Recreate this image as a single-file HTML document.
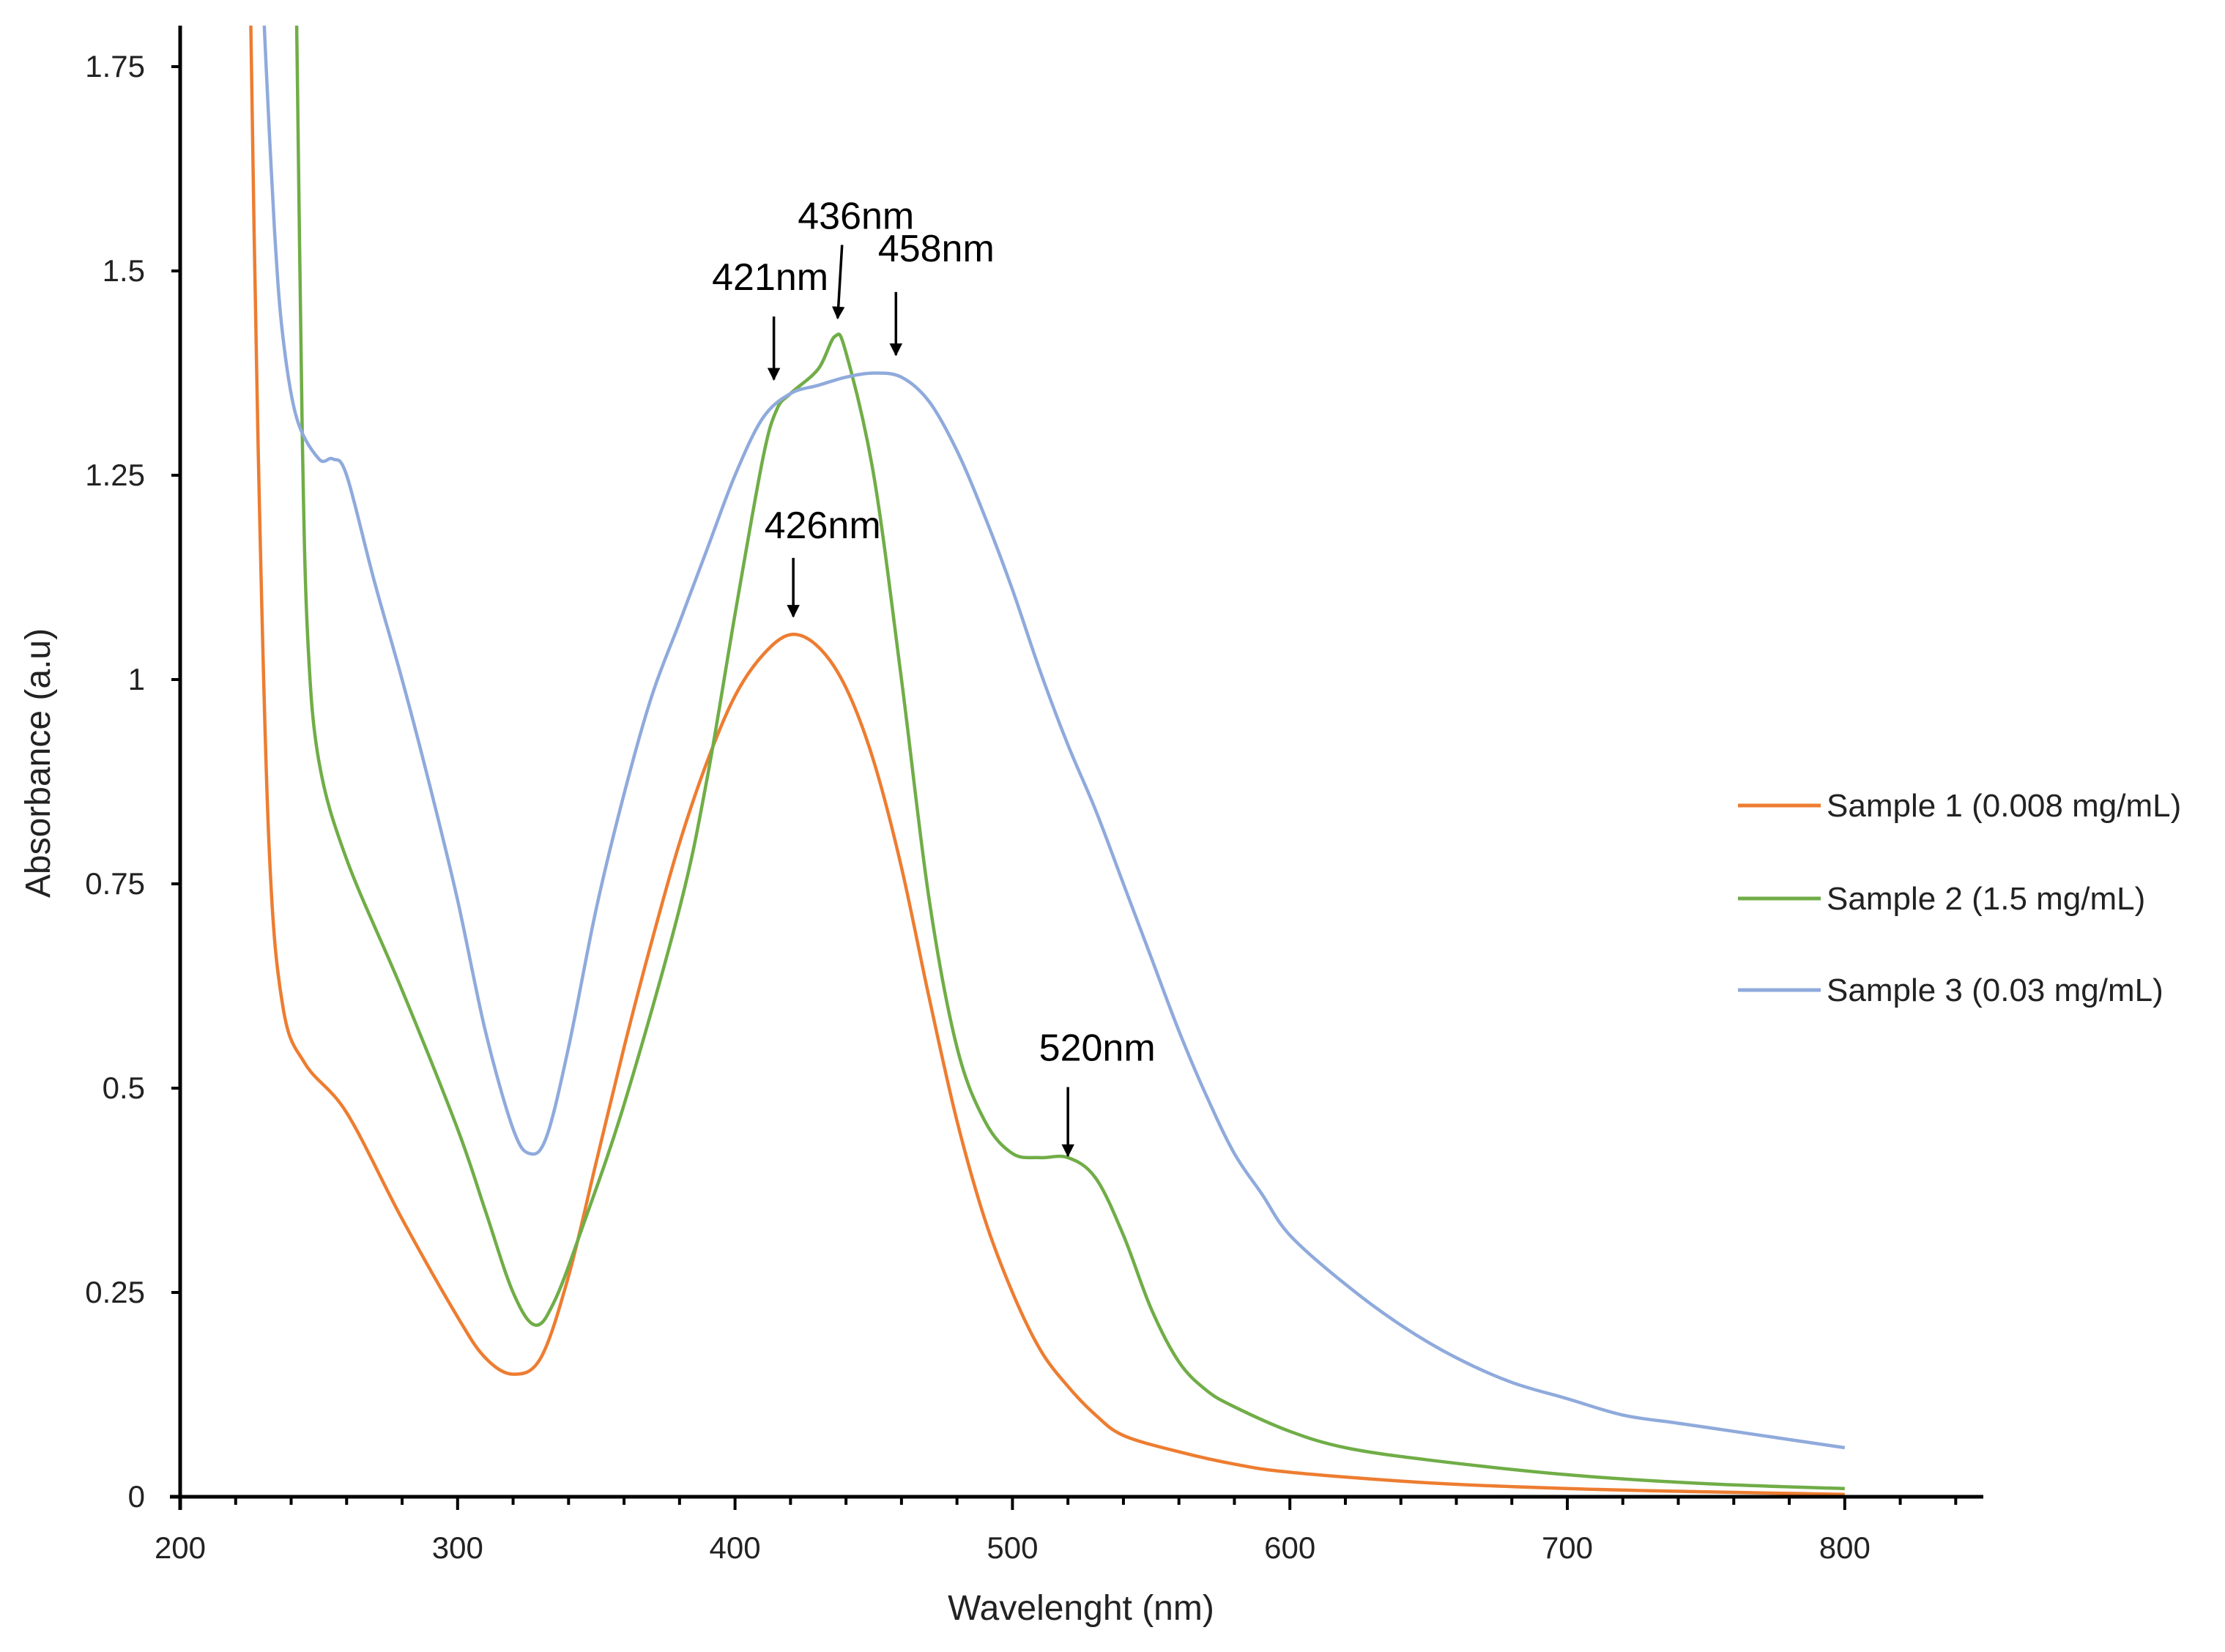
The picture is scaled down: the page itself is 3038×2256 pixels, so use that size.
<!DOCTYPE html>
<html><head><meta charset="utf-8"><style>
html,body{margin:0;padding:0;background:#fff;}
svg{display:block;font-family:"Liberation Sans",sans-serif;}
</style></head><body>
<svg id="chart" width="3038" height="2256" viewBox="0 0 3038 2256" xmlns="http://www.w3.org/2000/svg">
<defs><clipPath id="plotclip"><rect x="246" y="35" width="2470" height="2010"/></clipPath>
<marker id="ah" viewBox="0 0 10 10" refX="9" refY="5" markerWidth="5" markerHeight="5" orient="auto"><path d="M0,0 L10,5 L0,10 z" fill="#000"/></marker></defs>
<g id="series" clip-path="url(#plotclip)"></g>
<g id="axes"></g>
<g id="annots"></g>
<g id="legend"></g>
</svg>
<script>
const xTicks=[200,300,400,500,600,700,800];
const yTicks=[0,0.25,0.5,0.75,1,1.25,1.5,1.75];
const yTickLabels=["0","0.25","0.5","0.75","1","1.25","1.5","1.75"];
const s1x=[225,228,232,237,245,260,280,300,310,320,330,340,350,360,370,380,390,400,410,420,430,440,450,460,470,480,490,500,510,520,530,540,560,580,600,650,700,750,800];
const s1y=[1.9,1.3,0.8,0.6,0.53,0.47,0.34,0.22,0.17,0.15,0.17,0.27,0.41,0.55,0.68,0.80,0.90,0.98,1.03,1.055,1.04,0.99,0.90,0.77,0.61,0.46,0.34,0.25,0.18,0.135,0.10,0.075,0.055,0.04,0.03,0.017,0.01,0.006,0.003];
const s2x=[241,242,244,246,250,260,280,300,310,320,328,335,345,360,380,390,400,410,415,420,430,436,440,450,460,470,480,490,500,510,520,530,540,550,560,570,580,600,620,650,700,750,800];
const s2y=[1.9,1.8,1.3,1.05,0.9,0.78,0.62,0.45,0.35,0.25,0.21,0.24,0.33,0.48,0.72,0.88,1.08,1.27,1.33,1.35,1.38,1.42,1.40,1.25,1.0,0.73,0.55,0.46,0.42,0.415,0.415,0.39,0.32,0.23,0.165,0.13,0.11,0.08,0.06,0.045,0.027,0.016,0.01];
const s3x=[229,231,234,237,242,250,255,260,270,280,290,300,310,320,326,332,340,350,360,370,380,390,400,410,420,430,440,450,460,470,480,490,500,510,520,530,540,550,560,570,580,590,600,620,640,660,680,700,720,740,760,780,800];
const s3y=[1.9,1.75,1.55,1.42,1.32,1.27,1.27,1.25,1.12,1.0,0.87,0.73,0.57,0.45,0.42,0.44,0.55,0.72,0.86,0.98,1.07,1.16,1.25,1.32,1.35,1.36,1.37,1.375,1.37,1.34,1.28,1.20,1.11,1.01,0.92,0.84,0.75,0.66,0.57,0.49,0.42,0.37,0.32,0.26,0.21,0.17,0.14,0.12,0.10,0.09,0.08,0.07,0.06];
const annWl=[437,458,414,421,520];
const annVal=[1.435,1.39,1.36,1.07,0.41];
const annText=["436nm","458nm","421nm","426nm","520nm"];

const NS="http://www.w3.org/2000/svg";
function X(v){return 246+(v-200)*3.788;}
function Y(v){return 2044-v*1116;}
function mk(tag,attrs,parent,txt){const e=document.createElementNS(NS,tag);for(const k in attrs)e.setAttribute(k,attrs[k]);if(txt!==undefined)e.textContent=txt;parent.appendChild(e);return e;}
function smooth(pts){let d='M'+pts[0][0].toFixed(1)+','+pts[0][1].toFixed(1);
for(let i=0;i<pts.length-1;i++){const p0=pts[Math.max(0,i-1)],p1=pts[i],p2=pts[i+1],p3=pts[Math.min(pts.length-1,i+2)];
const c1=[p1[0]+(p2[0]-p0[0])/6,p1[1]+(p2[1]-p0[1])/6],c2=[p2[0]-(p3[0]-p1[0])/6,p2[1]-(p3[1]-p1[1])/6];
d+=' C'+c1.map(v=>v.toFixed(1)).join(',')+' '+c2.map(v=>v.toFixed(1)).join(',')+' '+p2[0].toFixed(1)+','+p2[1].toFixed(1);}
return d;}
const series=document.getElementById('series'),axes=document.getElementById('axes'),ann=document.getElementById('annots'),leg=document.getElementById('legend');
const defs=[[s1x,s1y,'#ED7D31','sample-1-line'],[s2x,s2y,'#70AD47','sample-2-line'],[s3x,s3y,'#8FAADC','sample-3-line']];
defs.forEach(d=>{const p=mk('path',{d:smooth(d[0].map((x,i)=>[X(x),Y(d[1][i])])),fill:'none',stroke:d[2],'stroke-width':4.5,'stroke-linejoin':'round'},series);

});
let a=mk('line',{x1:246,y1:35,x2:246,y2:2062,stroke:'#000','stroke-width':5},axes);


a=mk('line',{x1:232,y1:2044,x2:2708,y2:2044,stroke:'#000','stroke-width':5},axes);


for(let v=200;v<=850;v+=20){const major=(v%100===0);mk('line',{x1:X(v),y1:2044,x2:X(v),y2:2044+(major?18:11),stroke:'#000','stroke-width':4},axes);}
xTicks.forEach(v=>{const t=mk('text',{x:X(v),y:2128,'font-size':42,'text-anchor':'middle',fill:'#222'},axes,String(v));

});
yTicks.forEach((v,i)=>{mk('line',{x1:234,y1:Y(v),x2:246,y2:Y(v),stroke:'#000','stroke-width':4},axes);
const t=mk('text',{x:198,y:Y(v)+14,'font-size':42,'text-anchor':'end',fill:'#222'},axes,yTickLabels[i]);

});
let t=mk('text',{x:1476,y:2212,'font-size':48,'text-anchor':'middle',fill:'#222'},axes,'Wavelenght (nm)');


t=mk('text',{x:0,y:0,'font-size':48,'text-anchor':'middle',fill:'#222',transform:'translate(68,1042) rotate(-90)'},axes,'Absorbance (a.u)');


const textOff=[[25,-130],[55,-136],[-5,-130],[40,-115],[40,-138]];
const arrOff=[[6,-108],[0,-94],[0,-94],[0,-88],[0,-102]];
annWl.forEach((w,i)=>{const x=X(w),y=Y(annVal[i]);
const l=mk('line',{x1:x+arrOff[i][0],y1:y+arrOff[i][1],x2:x,y2:y-8,stroke:'#000','stroke-width':3.5,'marker-end':'url(#ah)'},ann);


const tx=mk('text',{x:x+textOff[i][0],y:y+textOff[i][1],'font-size':52,'text-anchor':'middle',fill:'#000'},ann,annText[i]);

});
const legNames=['Sample 1 (0.008 mg/mL)','Sample 2 (1.5 mg/mL)','Sample 3 (0.03 mg/mL)'];
const legY=[1100,1227,1352];
defs.forEach((d,i)=>{const g=mk('g',{},leg);


mk('line',{x1:2373,y1:legY[i],x2:2486,y2:legY[i],stroke:d[2],'stroke-width':5},g);
mk('text',{x:2494,y:legY[i]+15,'font-size':44,fill:'#222'},g,legNames[i]);});
</script>
</body></html>
